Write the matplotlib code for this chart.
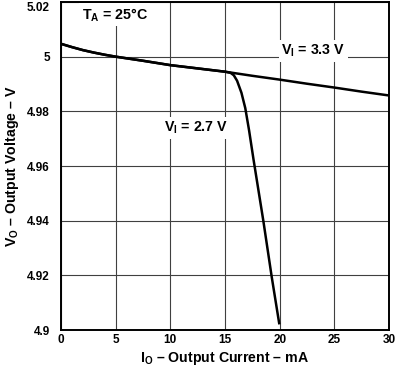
import matplotlib
matplotlib.use("Agg")
import matplotlib.pyplot as plt

plt.rcParams['font.family'] = 'Liberation Sans'
plt.rcParams['font.weight'] = 'bold'
plt.rcParams['mathtext.fontset'] = 'custom'
plt.rcParams['mathtext.bf'] = 'Liberation Sans:bold'
plt.rcParams['mathtext.rm'] = 'Liberation Sans:bold'
plt.rcParams['mathtext.default'] = 'bf'

# V_I = 3.3 V curve
i_33 = [0, 1, 2, 3, 4, 5, 7.5, 10, 12.5, 15, 17.5, 20, 22.5, 25, 27.5, 30]
v_33 = [5.0047, 5.0035, 5.0024, 5.0015, 5.0007, 5.0000, 4.9985, 4.9969, 4.9957, 4.9945,
        4.9930, 4.9916, 4.9901, 4.9887, 4.9872, 4.9858]

# V_I = 2.7 V curve
i_27 = [0, 1, 2, 3, 4, 5, 7.5, 10, 12.5, 15, 15.5, 15.8, 16.1, 16.5, 16.85, 17.2, 17.6,
        18.5, 19.27, 19.95]
v_27 = [5.0047, 5.0035, 5.0024, 5.0015, 5.0007, 5.0000, 4.9985, 4.9969, 4.9957, 4.9945,
        4.9941, 4.9932, 4.9912, 4.9868, 4.9812, 4.9730, 4.9625, 4.9400, 4.9194, 4.9025]

xticks = [0, 5, 10, 15, 20, 25, 30]
yticks = [4.9, 4.92, 4.94, 4.96, 4.98, 5, 5.02]
ytick_labels = ['4.9', '4.92', '4.94', '4.96', '4.98', '5', '5.02']

fig = plt.figure(figsize=(3.97, 3.71), dpi=100)
ax = fig.add_axes([0.1537, 0.1105, 0.8263, 0.8841])

ax.plot(i_33, v_33, color='black', lw=1.8, zorder=3, solid_joinstyle='round')
ax.plot(i_27, v_27, color='black', lw=1.8, zorder=3, solid_joinstyle='round')

ax.set_xlim(0, 30)
ax.set_ylim(4.9, 5.02)
ax.set_xticks(xticks)
ax.set_xticklabels([str(t) for t in xticks], fontsize=8.5, fontweight='bold')
ax.set_yticks(yticks)
ax.set_yticklabels(ytick_labels, fontsize=8.5, fontweight='bold')
ax.get_yticklabels()[-1].set_va('top')
ax.tick_params(axis='x', length=0, pad=3)
ax.tick_params(axis='y', length=0, pad=8)
ax.grid(True, color='0.25', lw=0.8, zorder=1)
for s in ax.spines.values():
    s.set_linewidth(1.4)

box = dict(facecolor='white', edgecolor='none', pad=2)
ax.text(4.9, 5.0153, r'T$_A$ = 25°C', fontsize=10.3, fontweight='bold', ha='center', va='center', bbox=box, zorder=4)
ax.text(23.1, 5.0022, r'V$_I$ = 3.3 V', fontsize=10.3, fontweight='bold', ha='center', va='center', bbox=box, zorder=4)
ax.text(12.4, 4.974, r'V$_I$ = 2.7 V', fontsize=10.3, fontweight='bold', ha='center', va='center', bbox=box, zorder=4)

ax.set_xlabel(r'I$_O$ – Output Current – mA', fontsize=10.2, fontweight='bold', labelpad=3)
ax.set_ylabel(r'V$_O$ – Output Voltage – V', fontsize=10.2, fontweight='bold', labelpad=4)

fig.savefig('out.png', dpi=100)
